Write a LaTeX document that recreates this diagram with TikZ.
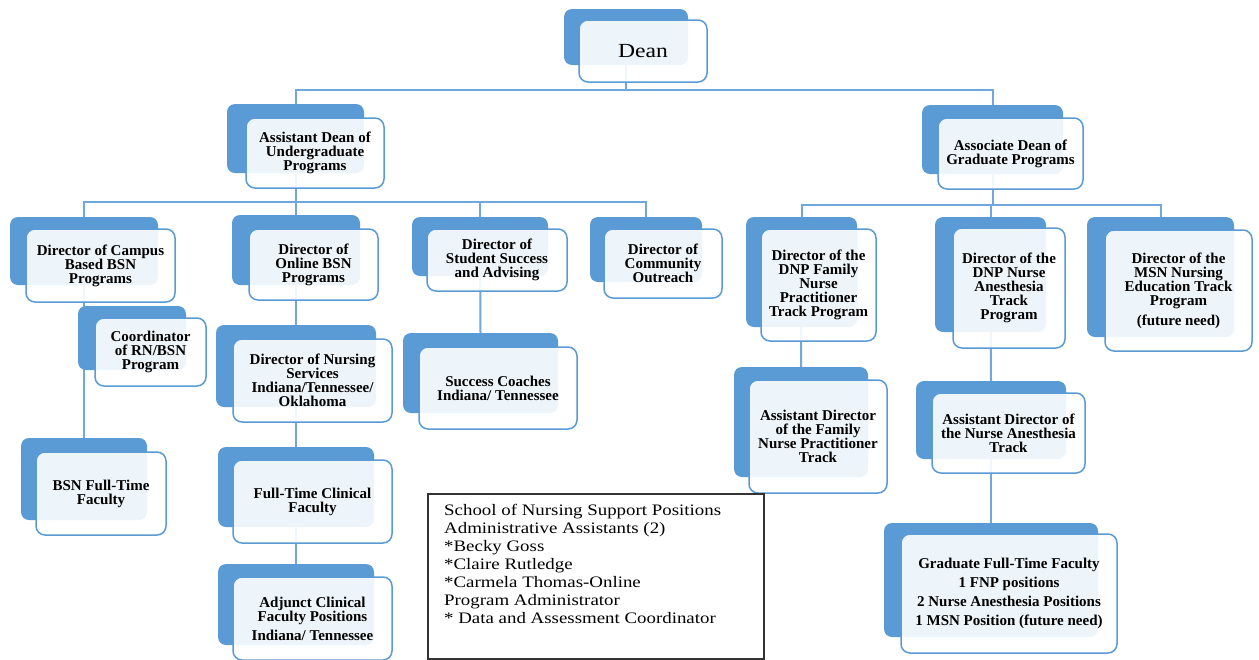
\documentclass[tikz,border=0pt]{standalone}
\usepackage{fontspec}
\setmainfont{Liberation Serif}
\newfontfamily\stretchfont[FakeStretch=1.18]{Liberation Serif}
\usetikzlibrary{backgrounds}
\definecolor{backblue}{HTML}{5B9BD5}
\definecolor{frontblue}{HTML}{5B9BD5}
\definecolor{lineblue}{HTML}{6FA8DC}
\newcommand{\boxfont}{\fontsize{15}{14}\selectfont\bfseries}
\newcommand{\deanfont}{\stretchfont\mdseries\fontsize{20}{22}\selectfont}
\newcommand{\suppfont}{\stretchfont\fontsize{16}{18}\selectfont}
\tikzset{
  backbox/.style={fill=backblue, rounded corners=8pt, draw=none, inner sep=0pt},
  frontbox/.style={draw=frontblue, line width=1.5pt, fill=white, fill opacity=0.9, text opacity=1,
    rounded corners=9pt, inner sep=0pt, align=center, font=\boxfont},
  conn/.style={draw=lineblue, line width=2pt},
  suppbox/.style={draw=black!80, line width=1.5pt, inner sep=0pt},
  supptext/.style={inner sep=0pt, align=left, font=\suppfont, anchor=north west},
}
\begin{document}
\begin{tikzpicture}[x=1pt,y=-1pt]
\useasboundingbox (0,0) rectangle (1259,659);
% Back boxes
\node[backbox, minimum width=124, minimum height=56] (deanB) at (626,37) {};
\node[backbox, minimum width=137, minimum height=69] (asstB) at (295.5,138.5) {};
\node[backbox, minimum width=141, minimum height=69] (assocB) at (992.5,139.5) {};
\node[backbox, minimum width=148, minimum height=68] (campusB) at (84,251) {};
\node[backbox, minimum width=128, minimum height=70] (onlineB) at (296,250) {};
\node[backbox, minimum width=136, minimum height=59] (studentB) at (480,246.5) {};
\node[backbox, minimum width=112, minimum height=65] (commB) at (646,249.5) {};
\node[backbox, minimum width=108, minimum height=64] (coordB) at (132,338) {};
\node[backbox, minimum width=160, minimum height=82] (nursB) at (296,366) {};
\node[backbox, minimum width=155, minimum height=80] (succB) at (480.5,373) {};
\node[backbox, minimum width=126, minimum height=82] (bsnftB) at (84,479) {};
\node[backbox, minimum width=156, minimum height=80] (ftclinB) at (296,487) {};
\node[backbox, minimum width=156, minimum height=81] (adjB) at (296,604.5) {};
\node[backbox, minimum width=111, minimum height=110] (fnpB) at (801.5,272) {};
\node[backbox, minimum width=111, minimum height=115] (naB) at (990.5,274.5) {};
\node[backbox, minimum width=147, minimum height=120] (msnB) at (1160.5,277) {};
\node[backbox, minimum width=134, minimum height=110] (afnpB) at (801,422) {};
\node[backbox, minimum width=150, minimum height=78] (anaB) at (991,420) {};
\node[backbox, minimum width=214, minimum height=114] (gradB) at (991,580) {};
% Front boxes
\node[frontbox, minimum width=128, minimum height=62] (dean) at (643,51) {\deanfont Dean};
\node[frontbox, minimum width=138, minimum height=70] (asst) at (315,153) {Assistant Dean of\\Undergraduate\\Programs};
\node[frontbox, minimum width=145, minimum height=71] (assoc) at (1010.5,153.5) {Associate Dean of\\Graduate Programs};
\node[frontbox, minimum width=149, minimum height=73] (campus) at (100.5,265.5) {Director of Campus\\Based BSN\\Programs};
\node[frontbox, minimum width=129, minimum height=71] (online) at (313.5,264.5) {Director of\\Online BSN\\Programs};
\node[frontbox, minimum width=140, minimum height=62] (student) at (497,260) {Director of\\Student Success\\and Advising};
\node[frontbox, minimum width=118, minimum height=69] (comm) at (663,263.5) {Director of\\Community\\Outreach};
\node[frontbox, minimum width=111, minimum height=68] (coord) at (150.5,352) {Coordinator\\of RN/BSN\\Program};
\node[frontbox, minimum width=159, minimum height=83] (nurs) at (312.5,380.5) {Director of Nursing\\Services\\Indiana/Tennessee/\\Oklahoma};
\node[frontbox, minimum width=158, minimum height=82] (succ) at (498,388) {Success Coaches\\Indiana/ Tennessee};
\node[frontbox, minimum width=130, minimum height=83] (bsnft) at (101,493.5) {BSN Full-Time\\Faculty};
\node[frontbox, minimum width=159, minimum height=83] (ftclin) at (312.5,501.5) {Full-Time Clinical\\Faculty};
\node[frontbox, minimum width=159, minimum height=83] (adj) at (312.5,618.5) {Adjunct Clinical\\Faculty Positions\\[5pt]Indiana/ Tennessee};
\node[frontbox, minimum width=115, minimum height=112] (fnp) at (818.5,285) {Director of the\\DNP Family\\Nurse\\Practitioner\\Track Program};
\node[frontbox, minimum width=112, minimum height=120] (na) at (1009,288) {Director of the\\DNP Nurse\\Anesthesia\\Track\\Program};
\node[frontbox, minimum width=147, minimum height=121] (msn) at (1178.5,290.5) {Director of the\\MSN Nursing\\Education Track\\Program\\[6pt](future need)};
\node[frontbox, minimum width=138, minimum height=113] (afnp) at (818,436.5) {Assistant Director\\of the Family\\Nurse Practitioner\\Track};
\node[frontbox, minimum width=153, minimum height=80] (ana) at (1008.5,433) {Assistant Director of\\the Nurse Anesthesia\\Track};
\node[frontbox, minimum width=216, minimum height=119] (grad) at (1009,593.5) {Graduate Full-Time Faculty\\[5pt]1 FNP positions\\[5pt]2 Nurse Anesthesia Positions\\[5pt]1 MSN Position (future need)};
% Support box
\node[suppbox, minimum width=336, minimum height=165, anchor=north west] (supp) at (427,493) {};
\node[supptext] (supptxt) at (444,504) {School of Nursing Support Positions\\Administrative Assistants (2)\\*Becky Goss\\*Claire Rutledge\\*Carmela Thomas-Online\\Program Administrator\\* Data and Assessment Coordinator};
% Connectors
\coordinate (bus1) at (0,90);
\coordinate (bus2) at (0,202);
\coordinate (bus3) at (0,205);
\begin{scope}[on background layer]
\fill[white] (0,0) rectangle (1259,659);
\draw[conn] (deanB.center) -- (deanB.center |- bus1);
\draw[conn] (asstB.north) -- (asstB.north |- bus1) -| (assocB.north);
\draw[conn] (asstB.center) -- (asstB.center |- bus2);
\draw[conn] (campusB.north) -- (campusB.north |- bus2) -| (commB.north);
\draw[conn] (onlineB.north) -- (onlineB.north |- bus2);
\draw[conn] (studentB.north) -- (studentB.north |- bus2);
\draw[conn] (assocB.center) -- (assocB.center |- bus3);
\draw[conn] (fnpB.north) -- (fnpB.north |- bus3) -| (msnB.north);
\draw[conn] (naB.north) -- (naB.north |- bus3);
\draw[conn] (campusB.center) -- (bsnftB.north);
\draw[conn] (onlineB.center) -- (nursB.north);
\draw[conn] (nursB.center) -- (ftclinB.north);
\draw[conn] (ftclinB.center) -- (adjB.north);
\draw[conn] (studentB.center) -- (succB.north);
\draw[conn] (fnpB.center) -- (afnpB.north);
\draw[conn] (naB.center) -- (anaB.north);
\draw[conn] (anaB.center) -- (gradB.north);
\end{scope}
\end{tikzpicture}
\end{document}
